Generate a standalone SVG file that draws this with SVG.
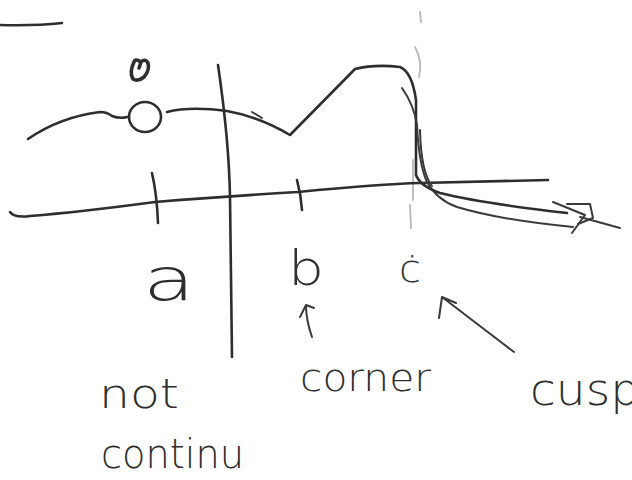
<svg xmlns="http://www.w3.org/2000/svg" width="632" height="480" viewBox="0 0 632 480">
<style>
.ink{fill:none;stroke:#2e2e2e;stroke-width:2.6;stroke-linecap:round;stroke-linejoin:round}
.thin{fill:none;stroke:#3a3a3a;stroke-width:2;stroke-linecap:round;stroke-linejoin:round}
.faint{fill:none;stroke:#b8b8b8;stroke-width:1.8;stroke-linecap:round}
.lbl{font-family:"DejaVu Sans","Liberation Sans",sans-serif;fill:#2e2e2e;font-weight:300}
</style>
<rect width="632" height="480" fill="#ffffff"/>
<g id="top-mark"><path class="ink" d="M0 25 Q35 26 62 23"/></g>
<g id="c-guide">
<path class="faint" d="M420 12 L421 22"/>
<path class="faint" d="M415 47 Q423 62 419 77"/>
<path class="faint" d="M413 160 L413 200"/>
<path class="faint" d="M410 205 L411 228"/>
</g>
<g id="axis">
<path class="ink" d="M10 212 Q14 218 30 216 Q80 212 155 202 Q230 196 298 192 Q380 184 420 183 Q500 181 548 180"/>
<path class="ink" d="M152 173 Q157 195 158 223"/>
<path class="ink" d="M297 180 Q301 195 302 210"/>
</g>
<g id="divider"><path class="ink" d="M218 65 Q229 140 230 197 L232 357"/></g>
<g id="curve">
<path class="ink" d="M28 139 Q60 117 100 112 Q107 112 112 116 Q120 119 127 117"/>
<ellipse class="ink" cx="145" cy="117" rx="16" ry="15"/>
<path d="M134 62 Q129 72 133 79 Q138 82 144 77 Q150 70 148 63 Q145 58 141 62 L139 68 M141 62 Q135 58 134 62" fill="none" stroke="#2e2e2e" stroke-width="3.6" stroke-linecap="round" stroke-linejoin="round"/>
<path class="ink" d="M167 112 Q190 106 227 111 Q260 117 290 135 L355 69 Q375 64 400 67 Q412 72 416 100 L416 175 Q420 186 440 193 Q480 203 567 213"/>
<path class="thin" d="M252 112 L262 118"/>
<path class="thin" d="M402 88 Q414 105 417 125 Q419 165 427 182 Q437 200 457 207 Q500 220 573 227"/>
<path class="thin" d="M420 130 Q421 172 432 186"/>
<path class="thin" d="M553 202 L585 215 L572 233"/>
<path class="thin" d="M567 204 L590 204 L593 218 L578 224"/>
<path class="thin" d="M580 217 L620 228"/>
</g>
<g id="labels">
<text class="lbl" x="143" y="300" font-size="58" textLength="52" lengthAdjust="spacingAndGlyphs">a</text>
<text class="lbl" x="288" y="285" font-size="48" textLength="36" lengthAdjust="spacingAndGlyphs">b</text>
<text class="lbl" x="399" y="282" font-size="38" textLength="22" lengthAdjust="spacingAndGlyphs">ċ</text>
<text class="lbl" x="99" y="408" font-size="40" textLength="80" lengthAdjust="spacingAndGlyphs">not</text>
<text class="lbl" x="101" y="468" font-size="40" textLength="143" lengthAdjust="spacingAndGlyphs">continu</text>
<text class="lbl" x="300" y="391" font-size="38" textLength="131" lengthAdjust="spacingAndGlyphs">corner</text>
<text class="lbl" x="530" y="405" font-size="44" textLength="110" lengthAdjust="spacingAndGlyphs">cusp</text>
</g>
<g id="connectors">
<path class="thin" d="M312 337 Q306 320 306 305 M300 317 L306 305 L314 308"/>
<path class="thin" d="M514 352 L442 297 M439 318 L442 297 L456 303"/>
</g>
</svg>
